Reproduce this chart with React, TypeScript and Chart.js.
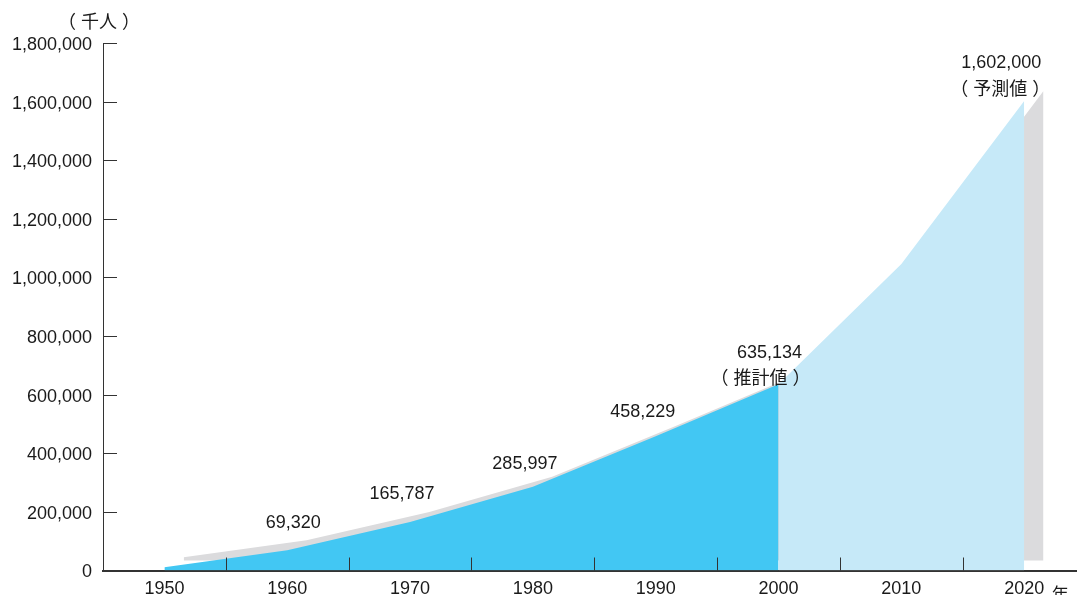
import React, { useEffect, useRef } from 'react';
import { Chart, registerables } from 'chart.js';

Chart.register(...registerables);

// ---- data ----
const actualYears = [1950, 1960, 1970, 1980, 1990, 2000];
const actualValues = [11000, 69320, 165787, 285997, 458229, 635134];
const forecastYears = [2000, 2010, 2020];
const forecastValues = [635134, 1046000, 1602000];

const xLabelYears = [1950, 1960, 1970, 1980, 1990, 2000, 2010, 2020];
const xMinorTicks = [1955, 1965, 1975, 1985, 1995, 2005, 2015];
const yTickValues = [0, 200000, 400000, 600000, 800000, 1000000, 1200000, 1400000, 1600000, 1800000];

const labelYears = [1960, 1970, 1980, 1990, 2000, 2020];
const labelValues = [69320, 165787, 285997, 458229, 635134, 1602000];
const labelTexts = ['69,320', '165,787', '285,997', '458,229', '635,134', '1,602,000'];
const labelNotes = ['', '', '', '', '推計値', '予測値'];

const yUnitLabel = '千人';
const xUnitLabel = '年';

// ---- layout / style (not data) ----
const labelOffsets: [number, number][] = [[6, -27], [-8, -28], [-8, -23], [-13, -24], [-9, -31], [-23, -38]];
const noteOffsets: [number, number][] = [[0, 0], [0, 0], [0, 0], [0, 0], [-9, 24], [-1, 25]];

const DARK_BLUE = 'rgb(66, 199, 243)';
const LIGHT_BLUE = 'rgb(198, 233, 248)';
const SHADOW = 'rgb(219, 219, 221)';
const TEXT = '#1a1a1a';
const AXIS = '#333333';
const LATIN = "'Liberation Sans', Arial, 'Noto Sans CJK JP', sans-serif";
const CJK = "'Noto Sans CJK JP', 'Liberation Sans', sans-serif";

const X_MIN = 1945;
const X_MAX = 2024.3;
const Y_MAX = 1800000;
const SHIFT_X = 1.57; // years (~19px)
const SHIFT_Y = 34000; // value units (~10px)

// draws "（inner）" with full-width parentheses set apart from the inner text
function drawParenText(ctx: CanvasRenderingContext2D, inner: string, cx: number, cy: number, size: number, gap: number) {
  ctx.font = `${size}px ${CJK}`;
  ctx.textBaseline = 'middle';
  ctx.textAlign = 'center';
  ctx.fillText(inner, cx, cy);
  const w = ctx.measureText(inner).width;
  ctx.textAlign = 'right';
  ctx.fillText('（', cx - w / 2 - gap, cy);
  ctx.textAlign = 'left';
  ctx.fillText('）', cx + w / 2 + gap, cy);
  ctx.textAlign = 'center';
}

const decorPlugin = {
  id: 'decor',
  afterDatasetsDraw(chart: any) {
    const { ctx } = chart;
    const x = chart.scales.x;
    const y = chart.scales.y;
    ctx.save();
    ctx.strokeStyle = AXIS;
    ctx.lineWidth = 1;
    ctx.beginPath();
    yTickValues.forEach((v) => {
      const py = Math.round(y.getPixelForValue(v)) + 0.5;
      ctx.moveTo(x.left, py);
      ctx.lineTo(x.left + 14, py);
    });
    xMinorTicks.forEach((v) => {
      const px = Math.round(x.getPixelForValue(v)) + 0.5;
      ctx.moveTo(px, y.bottom);
      ctx.lineTo(px, y.bottom - 13);
    });
    ctx.stroke();

    ctx.fillStyle = TEXT;
    ctx.textAlign = 'center';
    ctx.textBaseline = 'middle';
    labelYears.forEach((yr, i) => {
      const px = x.getPixelForValue(yr) + labelOffsets[i][0];
      const py = y.getPixelForValue(labelValues[i]) + labelOffsets[i][1];
      ctx.font = `18px ${LATIN}`;
      ctx.textAlign = 'center';
      ctx.fillText(labelTexts[i], px, py);
      if (labelNotes[i]) {
        drawParenText(ctx, labelNotes[i], px + noteOffsets[i][0], py + noteOffsets[i][1], 18, 5);
      }
    });

    drawParenText(ctx, yUnitLabel, x.left - 4, y.top - 22, 18, 5);
    ctx.font = `17px ${CJK}`;
    ctx.textAlign = 'center';
    ctx.fillText(xUnitLabel, x.getPixelForValue(2020) + 36, y.bottom + 23);
    ctx.restore();
  },
};

export default function App() {
  const ref = useRef<HTMLCanvasElement>(null);

  useEffect(() => {
    const canvas = ref.current;
    if (!canvas) return;
    const shadowYears = [...actualYears, ...forecastYears.slice(1)];
    const shadowValues = [...actualValues, ...forecastValues.slice(1)];
    const chart = new Chart(canvas, {
      type: 'line',
      data: {
        datasets: [
          {
            label: 'actual',
            data: actualYears.map((yr, i) => ({ x: yr, y: actualValues[i] })),
            xAxisID: 'x',
            yAxisID: 'y',
            fill: 'origin',
            backgroundColor: DARK_BLUE,
            borderWidth: 0,
            pointRadius: 0,
            tension: 0,
          },
          {
            label: 'forecast',
            data: forecastYears.map((yr, i) => ({ x: yr, y: forecastValues[i] })),
            xAxisID: 'x',
            yAxisID: 'y',
            fill: 'origin',
            backgroundColor: LIGHT_BLUE,
            borderWidth: 0,
            pointRadius: 0,
            tension: 0,
          },
          {
            label: 'shadow',
            data: shadowYears.map((yr, i) => ({ x: yr, y: shadowValues[i] })),
            xAxisID: 'x2',
            yAxisID: 'y2',
            fill: 'origin',
            backgroundColor: SHADOW,
            borderWidth: 0,
            pointRadius: 0,
            tension: 0,
          },
        ],
      } as any,
      options: {
        responsive: false,
        animation: false,
        events: [],
        layout: { padding: { top: 43, right: 0, left: 0, bottom: 0 } },
        plugins: { legend: { display: false }, tooltip: { enabled: false } },
        scales: {
          x: {
            type: 'linear',
            position: 'bottom',
            min: X_MIN,
            max: X_MAX,
            afterBuildTicks: (s: any) => {
              s.ticks = xLabelYears.map((v) => ({ value: v }));
            },
            afterFit: (s: any) => {
              s.height = 24.5;
            },
            grid: { display: false, drawTicks: false },
            border: { display: true, color: AXIS, width: 2 },
            ticks: {
              padding: 8,
              color: TEXT,
              font: { family: LATIN, size: 18 },
              maxRotation: 0,
              autoSkip: false,
              callback: (v: any) => String(v),
            },
          },
          y: {
            type: 'linear',
            position: 'left',
            min: 0,
            max: Y_MAX,
            afterBuildTicks: (s: any) => {
              s.ticks = yTickValues.map((v) => ({ value: v }));
            },
            afterFit: (s: any) => {
              s.width = 103;
            },
            grid: { display: false, drawTicks: false },
            border: { display: true, color: AXIS, width: 1 },
            ticks: {
              padding: 11,
              labelOffset: 2,
              color: TEXT,
              font: { family: LATIN, size: 18 },
              autoSkip: false,
              callback: (v: any) => Number(v).toLocaleString('en-US'),
            },
          },
          x2: { type: 'linear', display: false, min: X_MIN - SHIFT_X, max: X_MAX - SHIFT_X },
          y2: { type: 'linear', display: false, min: -SHIFT_Y, max: Y_MAX - SHIFT_Y },
        },
      } as any,
      plugins: [decorPlugin],
    });
    return () => chart.destroy();
  }, []);

  return (
    <div style={{ position: 'fixed', left: 0, top: 0, width: 1077, height: 595, background: '#fff' }}>
      <canvas ref={ref} width={1077} height={595} style={{ width: 1077, height: 595, display: 'block' }} />
    </div>
  );
}
